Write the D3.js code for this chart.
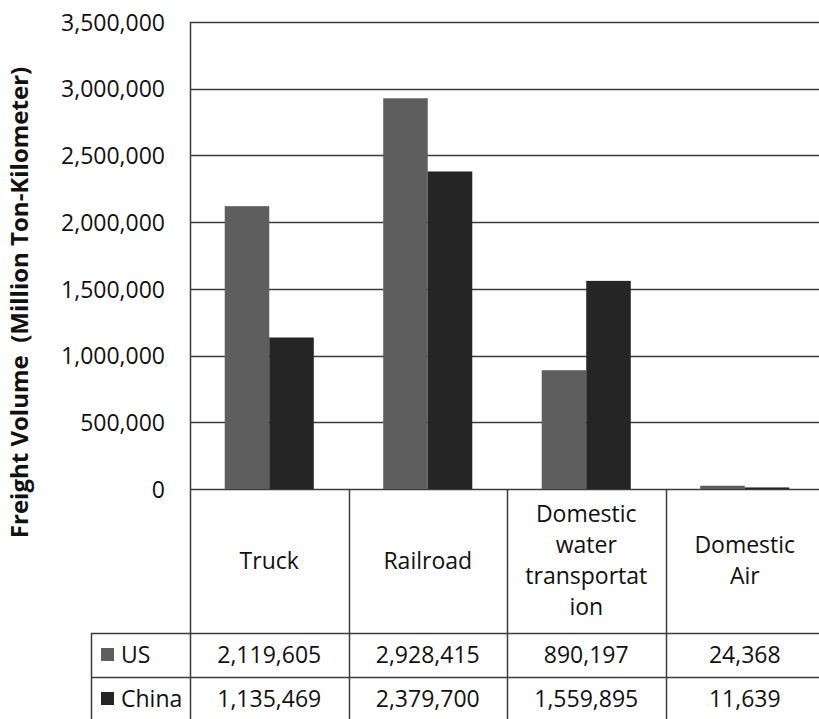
<!DOCTYPE html>
<html>
<head>
<meta charset="utf-8">
<script src="https://cdn.jsdelivr.net/npm/d3@7"></script>
<style>
  html, body { margin: 0; padding: 0; background: #fff; }
  svg { display: block; }
  text { font-family: "Open Sans", "Noto Sans", sans-serif; fill: #111; }
</style>
</head>
<body>
<svg id="chart" width="819" height="719"></svg>
<script>
// Freight volume by mode, US vs China (million ton-kilometres)
const categories = ["Truck", "Railroad", "Domestic water transportation", "Domestic Air"];
const categoryLines = [["Truck"], ["Railroad"], ["Domestic", "water", "transportat", "ion"], ["Domestic", "Air"]];
const seriesNames = ["US", "China"];
const usValues = [2119605, 2928415, 890197, 24368];
const chinaValues = [1135469, 2379700, 1559895, 11639];
const yTicks = [0, 500000, 1000000, 1500000, 2000000, 2500000, 3000000, 3500000];
const yTitle = "Freight Volume  (Million Ton-Kilometer)";

const seriesValues = [usValues, chinaValues];
const seriesColors = ["#5e5e5e", "#252525"];
const lineColor = "#3c3c3c";
const fontSize = 23;

const svg = d3.select("#chart");

const plot = { left: 190, right: 824, top: 22, bottom: 489 };
const table = { headerBottom: 633, rowH: 44, legendLeft: 91 };

const y = d3.scaleLinear().domain([0, 3500000]).range([plot.bottom, plot.top]);
const x = d3.scaleBand().domain(categories).range([plot.left, plot.right]).padding(0);
const xs = d3.scaleBand().domain(seriesNames).range([0, x.bandwidth()])
  .paddingInner(0).paddingOuter(0.78);

const fmt = d3.format(",");

// gridlines
svg.append("g")
  .selectAll("line")
  .data(yTicks)
  .join("line")
  .attr("x1", plot.left).attr("x2", plot.right)
  .attr("y1", d => Math.round(y(d)) + 0.5).attr("y2", d => Math.round(y(d)) + 0.5)
  .attr("stroke", lineColor).attr("stroke-width", 1.5);

// y axis labels
const yAxis = d3.axisLeft(y).tickValues(yTicks).tickFormat(fmt).tickSize(0).tickPadding(0);
const gy = svg.append("g").attr("transform", `translate(165,0)`).call(yAxis);
gy.select(".domain").remove();
gy.selectAll("text")
  .attr("font-family", "'Open Sans', sans-serif")
  .attr("font-size", fontSize)
  .attr("fill", "#111")
  .attr("dy", "0.36em");

// bars
const groups = svg.append("g")
  .selectAll("g")
  .data(categories)
  .join("g")
  .attr("transform", d => `translate(${x(d)},0)`);

groups.selectAll("rect")
  .data((d, i) => seriesNames.map((s, j) => ({ s, j, v: seriesValues[j][i] })))
  .join("rect")
  .attr("x", d => xs(d.s))
  .attr("width", xs.bandwidth())
  .attr("y", d => y(d.v))
  .attr("height", d => y(0) - y(d.v))
  .attr("fill", d => seriesColors[d.j]);

// left axis line (extends through the data table)
svg.append("line")
  .attr("x1", plot.left + 0.5).attr("x2", plot.left + 0.5)
  .attr("y1", plot.top).attr("y2", 719)
  .attr("stroke", lineColor).attr("stroke-width", 1.5);

// data table grid
const tableG = svg.append("g");
const rowTops = [table.headerBottom, table.headerBottom + table.rowH, table.headerBottom + 2 * table.rowH];
tableG.selectAll("line.h")
  .data(rowTops)
  .join("line")
  .attr("x1", table.legendLeft).attr("x2", plot.right)
  .attr("y1", d => d + 0.5).attr("y2", d => d + 0.5)
  .attr("stroke", lineColor).attr("stroke-width", 1.5);
tableG.selectAll("line.v")
  .data(categories.slice(1).map(c => x(c)).concat([plot.right]))
  .join("line")
  .attr("x1", d => Math.round(d) + 0.5).attr("x2", d => Math.round(d) + 0.5)
  .attr("y1", plot.bottom).attr("y2", 719)
  .attr("stroke", lineColor).attr("stroke-width", 1.5);
tableG.append("line")
  .attr("x1", table.legendLeft + 0.5).attr("x2", table.legendLeft + 0.5)
  .attr("y1", table.headerBottom).attr("y2", 719)
  .attr("stroke", lineColor).attr("stroke-width", 1.5);

// category header labels
const headerMid = (plot.bottom + table.headerBottom) / 2;
const lineH = 31;
svg.append("g")
  .selectAll("text")
  .data(categories)
  .join("text")
  .attr("x", d => x(d) + x.bandwidth() / 2)
  .attr("text-anchor", "middle")
  .attr("font-size", fontSize)
  .each(function (d, i) {
    const lines = categoryLines[i];
    const first = headerMid + 7.5 - (lines.length - 1) * lineH / 2;
    d3.select(this).selectAll("tspan")
      .data(lines)
      .join("tspan")
      .attr("x", x(d) + x.bandwidth() / 2)
      .attr("y", (l, k) => first + k * lineH)
      .text(l => l);
  });

// value rows with legend keys
seriesNames.forEach((s, j) => {
  const mid = table.headerBottom + j * table.rowH + table.rowH / 2;
  svg.append("g")
    .selectAll("text")
    .data(categories)
    .join("text")
    .attr("x", d => x(d) + x.bandwidth() / 2)
    .attr("y", mid + 8)
    .attr("text-anchor", "middle")
    .attr("font-size", fontSize)
    .text((d, i) => fmt(seriesValues[j][i]));

  svg.append("rect")
    .attr("x", 101).attr("y", mid - 7)
    .attr("width", 13).attr("height", 13)
    .attr("fill", seriesColors[j]);
  svg.append("text")
    .attr("x", 121).attr("y", mid + 8)
    .attr("font-size", fontSize)
    .text(s);
});

// y axis title
svg.append("text")
  .attr("transform", `translate(28,${(65 + 540) / 2}) rotate(-90)`)
  .attr("text-anchor", "middle")
  .attr("font-size", 24)
  .attr("font-weight", "bold")
  .style("white-space", "pre")
  .text(yTitle);
</script>
</body>
</html>
